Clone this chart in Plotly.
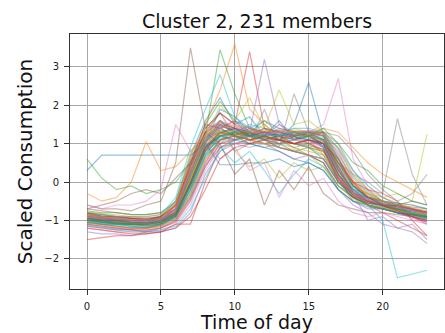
import plotly.graph_objects as go

hours = list(range(24))
x_ticks = [0, 5, 10, 15, 20]
y_ticks = [-2, -1, 0, 1, 2, 3]
title_text = "Cluster 2, 231 members"

s01 = [-0.9,-0.95,-1.0,-1.0,-1.05,-1.0,-0.8,0.0,0.9,1.2,1.3,1.25,1.3,1.2,1.25,1.2,1.0,0.2,-0.3,-0.5,-0.6,-0.7,-0.8,-0.9]
s02 = [-1.0,-1.1,-1.15,-1.2,-1.2,-1.15,-0.9,-0.2,0.8,1.3,1.4,1.3,1.2,1.3,1.2,1.1,0.7,0.0,-0.4,-0.6,-0.7,-0.75,-0.85,-0.95]
s03 = [-0.8,-0.85,-0.9,-0.95,-0.95,-0.9,-0.6,0.4,1.2,1.5,1.4,1.2,1.4,1.3,1.1,1.2,1.3,0.6,-0.1,-0.4,-0.5,-0.6,-0.7,-0.8]
s04 = [-1.1,-1.15,-1.2,-1.25,-1.25,-1.2,-1.0,-0.4,0.5,1.1,1.2,1.4,1.3,1.2,1.3,1.3,1.2,0.4,-0.2,-0.5,-0.6,-0.8,-0.9,-1.0]
s05 = [-0.9,-1.0,-1.05,-1.1,-1.1,-1.05,-0.85,0.2,1.0,1.6,1.3,1.1,1.2,1.5,1.3,1.2,0.9,0.1,-0.5,-0.7,-0.7,-0.8,-0.85,-0.9]
s06 = [-0.7,-0.75,-0.8,-0.85,-0.85,-0.8,-0.5,0.6,1.4,1.8,1.5,1.3,1.1,1.2,1.0,0.9,0.8,0.2,-0.2,-0.3,-0.5,-0.6,-0.65,-0.7]
s07 = [-1.2,-1.25,-1.3,-1.3,-1.3,-1.25,-1.1,-0.6,0.3,0.9,1.1,1.2,1.2,1.3,1.2,1.3,1.2,0.8,0.0,-0.5,-0.7,-0.8,-0.95,-1.05]
s08 = [-0.95,-1.0,-1.05,-1.1,-1.1,-1.0,-0.7,0.1,1.1,1.4,1.6,1.4,1.2,1.1,1.0,1.1,0.9,0.0,-0.3,-0.4,-0.5,-0.6,-0.75,-0.8]
s09 = [-0.85,-0.9,-0.95,-1.0,-1.0,-0.95,-0.75,0.3,1.3,1.2,1.1,1.3,1.5,1.2,1.4,1.3,1.1,0.3,-0.2,-0.5,-0.5,-0.65,-0.7,-0.75]
s10 = [-1.05,-1.1,-1.1,-1.15,-1.15,-1.1,-0.95,-0.3,0.7,1.0,1.3,1.5,1.4,1.3,1.4,1.4,1.3,0.7,0.1,-0.3,-0.6,-0.7,-0.9,-1.0]
s11 = [-0.9,-0.95,-1.0,-1.05,-1.05,-1.0,-0.8,0.0,1.0,1.9,1.7,1.3,1.1,0.9,0.8,0.7,0.6,0.0,-0.3,-0.5,-0.6,-0.7,-0.8,-0.85]
s12 = [-1.0,-1.05,-1.1,-1.1,-1.15,-1.1,-0.85,0.1,0.9,1.3,1.2,1.2,1.3,1.2,1.3,1.3,1.3,0.9,0.2,-0.2,-0.4,-0.55,-0.7,-0.85]
s13 = [-0.75,-0.8,-0.8,-0.85,-0.85,-0.8,-0.55,0.5,1.5,2.1,1.6,1.2,1.0,1.1,0.9,0.7,0.5,-0.1,-0.4,-0.6,-0.65,-0.7,-0.75,-0.8]
s14 = [-1.15,-1.2,-1.25,-1.25,-1.3,-1.2,-1.05,-0.5,0.4,1.0,1.1,1.2,1.3,1.3,1.2,1.3,1.2,0.5,-0.1,-0.4,-0.6,-0.8,-0.9,-1.1]
s15 = [-0.9,-0.95,-1.0,-1.0,-1.0,-0.95,-0.7,0.3,1.1,1.4,1.2,1.4,1.2,1.0,1.1,1.2,1.1,0.3,-0.2,-0.4,-0.5,-0.65,-0.8,-0.9]
s16 = [-0.95,-1.0,-1.05,-1.05,-1.1,-1.05,-0.8,-0.1,0.8,1.2,1.4,1.3,1.6,1.4,1.3,1.2,1.0,0.2,-0.3,-0.5,-0.6,-0.7,-0.85,-0.9]
s17 = [-0.85,-0.9,-0.9,-0.95,-0.95,-0.9,-0.65,0.5,1.4,1.5,1.3,1.2,1.2,1.1,1.2,1.1,0.9,0.1,-0.35,-0.55,-0.6,-0.7,-0.75,-0.85]
s18 = [-1.1,-1.15,-1.2,-1.2,-1.2,-1.15,-0.95,-0.2,0.7,1.2,1.3,1.2,1.2,1.4,1.3,1.3,1.3,1.0,0.3,-0.2,-0.5,-0.7,-0.85,-1.0]
s19 = [-0.9,-1.0,-1.0,-1.05,-1.1,-1.0,-0.8,0.2,1.1,1.3,0.8,0.4,0.6,0.1,0.5,0.3,0.4,-0.2,-0.5,-0.6,-0.7,-0.75,-0.8,-0.9]
s20 = [-1.0,-1.0,-1.05,-1.1,-1.1,-1.0,-0.7,0.4,1.2,0.9,0.5,0.8,0.3,-0.3,0.2,0.6,0.4,-0.1,-0.4,-0.6,-0.7,-0.8,-0.85,-0.95]
s21 = [-0.8,-0.9,-0.95,-0.95,-1.0,-0.9,-0.5,0.7,1.6,2.2,1.5,1.7,1.2,1.6,1.1,1.3,0.9,0.2,-0.3,-0.5,-0.6,-0.6,-0.7,-0.8]
s22 = [-0.9,-0.95,-1.0,-1.0,-1.05,-1.0,-0.6,0.6,1.5,2.4,3.6,1.9,1.5,1.2,1.0,0.9,0.8,0.1,-0.3,-0.5,-0.6,-0.7,-0.8,-0.85]
s23 = [-1.0,-1.05,-1.1,-1.1,-1.1,-1.05,-0.8,0.3,1.2,3.45,2.3,1.4,1.3,1.2,1.1,1.0,0.8,0.0,-0.4,-0.6,-0.7,-0.75,-0.85,-0.9]
s24 = [-0.85,-0.9,-0.9,-0.95,-1.0,-0.9,-0.7,0.4,1.3,1.8,1.5,3.4,1.4,1.1,1.3,1.2,1.0,0.2,-0.3,-0.5,-0.6,-0.7,-0.75,-0.85]
s25 = [-1.05,-1.1,-1.15,-1.2,-1.2,-1.1,-0.9,-0.1,0.8,1.4,1.6,1.3,3.2,1.5,1.2,1.3,1.1,0.3,-0.2,-0.5,-0.6,-0.75,-0.9,-1.0]
s26 = [-0.6,-0.7,-0.7,-0.75,-0.6,-0.5,0.5,3.5,1.4,1.8,1.2,1.0,1.1,0.9,0.8,0.7,0.6,0.0,-0.3,-0.4,-0.5,-0.55,-0.6,-0.7]
s27 = [-0.9,-0.95,-1.0,-1.0,-1.0,-0.95,-0.7,0.2,1.0,1.5,1.3,1.2,1.1,1.0,1.2,1.3,1.5,2.7,0.6,-0.1,-0.4,-0.6,-0.7,-0.8]
s28 = [-0.8,-0.85,-0.9,-0.9,-0.95,-0.9,-0.6,0.3,1.1,1.6,1.4,1.2,1.1,1.0,0.9,1.0,1.1,0.5,0.2,0.0,-0.3,1.65,0.2,-0.6]
s29 = [-0.95,-1.0,-1.0,-1.05,-1.05,-1.0,-0.75,0.1,0.9,1.3,1.2,1.1,1.2,1.1,1.0,0.9,0.8,0.2,-0.1,-0.3,-0.4,-0.3,-0.5,1.25]
s30 = [-1.0,-1.05,-1.1,-1.1,-1.15,-1.1,-0.9,-0.2,0.7,1.2,1.3,1.2,1.1,1.2,1.0,0.9,0.7,0.0,-0.4,-0.6,-1.0,-2.5,-2.4,-2.3]
s31 = [0.3,0.7,0.7,0.7,0.7,0.7,0.7,0.7,1.0,0.45,0.45,0.5,0.5,0.6,0.4,0.5,0.3,-0.2,-0.5,-0.6,-0.7,-0.8,-0.9,-1.0]
s32 = [-0.3,-0.5,-0.4,0.0,1.05,0.3,0.4,0.8,1.2,1.5,1.3,1.1,1.0,1.1,0.9,0.8,0.7,0.1,-0.3,-0.5,-0.6,-0.7,-0.8,-0.9]
s33 = [0.6,0.1,-0.2,-0.1,-0.3,-0.2,0.0,0.5,1.3,1.6,1.2,1.0,0.9,1.0,0.8,0.9,0.6,0.0,-0.4,-0.6,-0.7,-0.8,-0.85,-0.9]
s34 = [-1.5,-1.45,-1.4,-1.4,-1.35,-1.3,-1.1,-1.1,0.0,0.9,1.0,1.1,1.2,1.1,1.0,1.1,1.0,0.4,-0.3,-0.6,-0.8,-1.0,-1.2,-1.4]
s35 = [-1.3,-1.35,-1.35,-1.4,-1.3,-1.3,-1.2,-0.8,0.2,0.8,1.0,0.9,1.0,0.8,0.6,0.7,0.5,-0.2,-0.6,-0.8,-1.1,-1.2,-1.3,-1.6]
s36 = [-0.85,-0.9,-0.95,-1.0,-1.0,-0.9,-0.6,0.5,1.3,1.0,0.2,0.6,-0.6,0.3,-0.2,0.4,-0.3,-0.6,-0.7,-0.8,-0.8,-0.85,-0.9,-0.95]
s37 = [-0.9,-0.95,-1.0,-1.0,-1.05,-1.0,-0.7,0.2,1.0,0.6,0.9,0.3,0.5,-0.4,0.3,-0.1,0.1,-0.5,-0.8,-0.9,-0.8,-0.9,-1.0,-1.1]
s38 = [-1.0,-1.05,-1.05,-1.1,-1.1,-1.05,-0.85,0.0,0.9,1.5,0.8,1.0,1.9,0.9,2.3,1.3,1.2,0.4,-0.1,-0.4,-0.5,-0.6,-0.7,-0.85]
s39 = [-0.95,-1.0,-1.0,-1.05,-1.1,-1.0,-0.8,0.1,1.1,2.0,1.6,2.2,1.4,2.4,1.5,1.6,1.3,0.5,0.0,-0.3,-0.5,-0.6,-0.7,-0.8]
s40 = [-0.8,-0.85,-0.9,-0.9,-0.9,-0.85,-0.4,0.9,1.9,2.8,1.7,1.4,1.6,1.3,1.2,1.1,1.0,0.3,-0.2,-0.4,-0.5,-0.55,-0.6,-0.7]
s41 = [-1.0,-1.05,-1.1,-1.1,-1.1,-1.05,-0.85,0.0,0.9,1.3,1.4,1.2,1.3,1.1,1.5,2.6,1.2,0.6,-0.1,-0.4,-0.6,-0.7,-0.8,-0.9]
s42 = [-0.9,-0.95,-0.95,-1.0,-1.0,-0.95,-0.75,0.1,1.0,1.3,1.2,1.3,1.2,1.1,1.2,1.3,1.4,1.3,0.9,0.5,0.2,0.0,-0.2,-0.4]
s43 = [-1.05,-1.1,-1.1,-1.15,-1.2,-1.1,-0.9,-0.3,0.6,1.1,1.3,1.2,1.3,1.2,1.3,1.2,1.4,1.0,0.5,0.3,-0.1,-0.3,-0.5,-0.6]
s44 = [-0.9,-0.95,-1.0,-1.0,-1.0,-0.95,-0.8,-0.1,0.8,1.1,1.2,1.1,1.2,1.1,1.0,1.1,1.0,0.5,0.0,-0.2,-0.3,-0.5,-1.0,-1.4]
s45 = [-0.95,-1.0,-1.05,-1.05,-1.1,-1.0,-0.8,0.0,0.9,1.2,1.3,1.2,1.3,1.2,1.1,1.2,1.0,0.3,-0.3,-1.0,-0.9,-1.2,-1.1,-1.5]
s46 = [-0.7,-0.6,-0.5,-0.3,-0.2,-0.3,0.1,0.5,1.5,1.4,1.2,1.1,1.0,0.9,0.8,0.7,0.5,-0.1,-0.4,-0.6,-0.7,-0.6,-0.5,-0.6]
s47 = [-0.6,-0.7,-0.6,-0.6,-0.5,-0.2,1.5,0.8,1.2,1.3,1.0,1.1,1.0,0.9,0.8,0.7,0.6,0.0,-0.3,-0.5,-0.6,-0.7,-0.7,-0.8]
s48 = [-1.0,-1.0,-1.05,-1.1,-1.1,-1.05,-0.9,-0.4,0.4,0.9,1.1,1.2,1.1,1.0,1.1,1.2,1.3,1.2,0.8,0.2,-0.2,-0.5,-0.3,0.2]
s49 = [-0.92,-0.97,-1.02,-1.05,-1.07,-1.02,-0.82,0.05,0.95,1.25,1.35,1.3,1.25,1.3,1.25,1.2,1.05,0.25,-0.3,-0.55,-0.65,-0.75,-0.82,-0.9]
s50 = [-1.02,-1.08,-1.12,-1.15,-1.18,-1.12,-0.92,-0.15,0.75,1.15,1.3,1.35,1.3,1.25,1.3,1.25,1.15,0.45,-0.15,-0.45,-0.6,-0.72,-0.85,-0.95]
s51 = [-0.88,-0.92,-0.98,-1.0,-1.02,-0.97,-0.7,0.25,1.15,1.45,1.35,1.25,1.2,1.25,1.15,1.1,0.95,0.15,-0.35,-0.55,-0.62,-0.7,-0.78,-0.86]
s52 = [-1.08,-1.12,-1.18,-1.2,-1.22,-1.16,-0.98,-0.35,0.55,1.05,1.25,1.3,1.35,1.3,1.35,1.3,1.25,0.75,0.05,-0.35,-0.58,-0.75,-0.88,-0.98]
s53 = [-0.95,-1.0,-1.02,-1.08,-1.08,-1.02,-0.78,0.15,1.05,1.35,1.25,1.3,1.15,1.2,1.25,1.15,1.0,0.2,-0.28,-0.52,-0.62,-0.7,-0.8,-0.88]
s54 = [-0.82,-0.88,-0.92,-0.95,-0.97,-0.92,-0.62,0.42,1.28,1.55,1.4,1.2,1.3,1.15,1.2,1.0,0.85,0.1,-0.35,-0.5,-0.58,-0.65,-0.72,-0.8]
s55 = [-1.12,-1.18,-1.22,-1.25,-1.27,-1.2,-1.02,-0.45,0.45,1.0,1.15,1.25,1.3,1.25,1.3,1.35,1.25,0.65,-0.05,-0.45,-0.65,-0.8,-0.92,-1.02]
s56 = [-0.98,-1.02,-1.08,-1.1,-1.12,-1.08,-0.88,-0.05,0.85,1.25,1.45,1.25,1.4,1.3,1.2,1.25,1.1,0.35,-0.25,-0.5,-0.62,-0.72,-0.85,-0.92]
s57 = [-0.9,-0.94,-0.98,-1.02,-1.05,-0.98,-0.72,0.35,1.25,1.6,1.45,1.35,1.25,1.3,1.1,1.05,0.9,0.15,-0.3,-0.48,-0.58,-0.68,-0.76,-0.84]
s58 = [-1.05,-1.1,-1.15,-1.18,-1.18,-1.12,-0.9,-0.2,0.65,1.1,1.2,1.15,1.25,1.2,1.25,1.3,1.3,0.85,0.15,-0.25,-0.5,-0.65,-0.8,-0.95]
s59 = [-0.85,-0.9,-0.95,-0.98,-1.0,-0.95,-0.55,0.75,1.35,1.3,1.2,1.1,1.0,0.9,0.85,0.7,0.4,-0.1,-0.45,-0.6,-0.7,-0.75,-0.8,-0.85]
s60 = [-1.15,-1.2,-1.25,-1.3,-1.3,-1.25,-1.15,-0.7,0.1,0.8,1.1,1.2,1.25,1.2,1.3,1.25,1.2,0.9,0.3,-0.1,-0.4,-0.6,-0.8,-0.95]
s61 = [-0.95,-1.0,-1.0,-1.05,-1.05,-1.0,-0.85,-0.05,0.95,1.2,1.1,1.0,0.9,0.8,0.6,0.5,0.3,-0.2,-0.5,-0.65,-0.7,-0.8,-0.85,-0.9]
s62 = [-0.78,-0.82,-0.86,-0.9,-0.9,-0.85,-0.6,0.3,1.2,1.4,1.5,1.4,1.3,1.35,1.3,1.25,1.2,0.5,-0.05,-0.35,-0.5,-0.6,-0.68,-0.75]
s63 = [-1.0,-1.04,-1.08,-1.12,-1.14,-1.08,-0.88,-0.1,0.85,1.2,1.25,1.2,1.15,1.1,1.15,1.2,1.1,0.5,-0.1,-0.4,-0.55,-0.7,-0.82,-0.92]
s64 = [-1.2,-1.25,-1.3,-1.35,-1.35,-1.3,-1.2,-0.9,-0.2,0.6,0.9,1.0,1.1,1.1,1.0,1.1,1.0,0.6,0.0,-0.4,-0.6,-0.75,-0.9,-1.05]
s65 = [-0.9,-0.93,-0.97,-1.0,-1.0,-0.96,-0.76,0.2,1.05,1.5,1.3,1.45,1.25,1.35,1.2,1.3,1.05,0.3,-0.25,-0.45,-0.55,-0.65,-0.72,-0.8]
s66 = [-0.95,-0.98,-1.02,-1.05,-1.07,-1.03,-0.83,0.0,0.9,1.3,1.2,1.1,1.15,1.1,1.0,0.95,0.85,0.05,-0.4,-0.55,-0.6,-0.62,-0.7,-0.78]

series = [s01,s02,s03,s04,s05,s06,s07,s08,s09,s10,s11,s12,s13,s14,s15,s16,s17,s18,s19,s20,
          s21,s22,s23,s24,s25,s26,s27,s28,s29,s30,s31,s32,s33,s34,s35,s36,s37,s38,s39,s40,
          s41,s42,s43,s44,s45,s46,s47,s48,s49,s50,s51,s52,s53,s54,s55,s56,s57,s58,s59,s60,
          s61,s62,s63,s64,s65,s66]

palette = ["#1f77b4", "#ff7f0e", "#2ca02c", "#d62728", "#9467bd",
           "#8c564b", "#e377c2", "#7f7f7f", "#bcbd22", "#17becf"]

fig = go.Figure()
for i, s in enumerate(series):
    fig.add_trace(go.Scatter(x=hours, y=s, mode="lines",
                             line=dict(color=palette[i % 10], width=1.2),
                             opacity=0.45, showlegend=False, hoverinfo="skip"))

font = "DejaVu Sans, sans-serif"
fig.update_layout(
    width=445, height=333,
    margin=dict(l=70, r=1, t=34, b=44),
    paper_bgcolor="white", plot_bgcolor="white",
    font=dict(family=font, color="#222222"),
    title=dict(text=title_text, x=0.5, xref="paper", xanchor="center",
               y=1 - 21 / 333, yref="container", yanchor="middle",
               font=dict(size=19, family=font, color="#111111")),
)
axis_common = dict(showgrid=True, gridcolor="#a8a8a8", gridwidth=0.8,
                   zeroline=False, showline=True, linecolor="#333333", linewidth=1,
                   mirror=True, ticks="outside", ticklen=5, tickcolor="#333333",
                   ticklabelstandoff=3,
                   tickfont=dict(size=10, family=font, color="#222222"))
fig.update_xaxes(range=[-1.15, 24.15], tickvals=x_ticks,
                 title=dict(text="Time of day", font=dict(size=19, family=font, color="#111111"),
                            standoff=0),
                 **axis_common)
fig.update_yaxes(range=[-2.79, 3.86], tickvals=y_ticks,
                 title=dict(text="Scaled Consumption", font=dict(size=20, family=font, color="#111111"),
                            standoff=6),
                 **axis_common)

fig.write_html("out.html")
